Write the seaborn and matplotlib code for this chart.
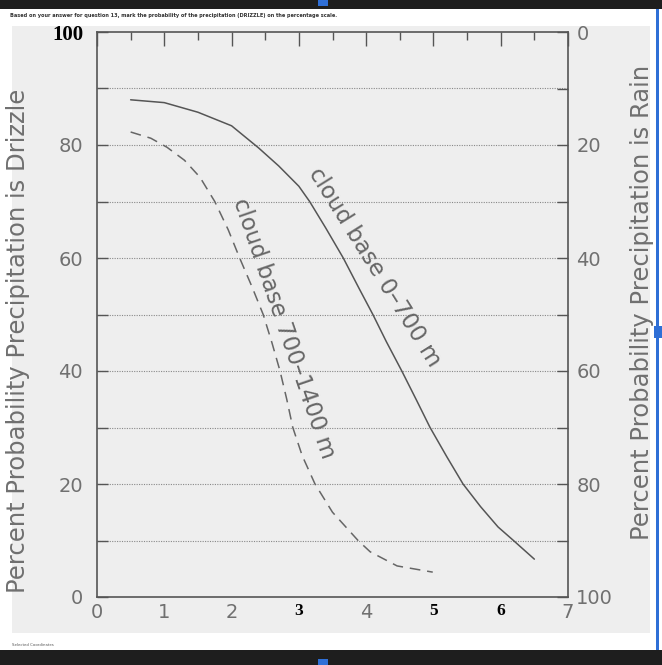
import matplotlib
matplotlib.use("Agg")
import matplotlib.pyplot as plt
from matplotlib.patches import Rectangle
import numpy as np
import pandas as pd
import seaborn as sns

# ---- data ----
solid_x = [0.5, 1.0, 1.5, 2.0, 2.4, 2.7, 3.0, 3.16, 3.4, 3.66, 3.9, 4.10, 4.3, 4.53, 4.75, 4.95, 5.2, 5.44, 5.7, 5.96, 6.18, 6.5]
solid_y = [88, 87.5, 85.8, 83.4, 79.5, 76.3, 72.7, 70, 65.3, 60, 54.5, 50, 45.2, 40, 34.8, 30, 24.8, 20, 16, 12.4, 10.1, 6.7]
dashed_x = [0.5, 0.8, 1.04, 1.3, 1.53, 1.75, 1.95, 2.12, 2.3, 2.47, 2.6, 2.72, 2.82, 2.91, 3.05, 3.24, 3.5, 3.88, 4.06, 4.46, 4.99]
dashed_y = [82.3, 81.2, 79.6, 77.3, 74.3, 70, 65, 60, 55, 50, 45, 40, 35, 30, 25, 20, 15, 10, 8, 5.5, 4.4]
series_labels = ["cloud base 0\u2013700 m", "cloud base 700\u20131400 m"]
x_ticks = [0, 1, 2, 3, 4, 5, 6, 7]
left_ticklabels = ["0", "", "20", "", "40", "", "60", "", "80", "", "100"]
right_ticklabels = ["0", "", "20", "", "40", "", "60", "", "80", "", "100"]
left_label = "Percent Probability Precipitation is Drizzle"
right_label = "Percent Probability Precipitation is Rain"
header = ("Based on your answer for question 13, mark the probability of the "
          "precipitation (DRIZZLE) on the percentage scale.")

df = pd.concat([
    pd.DataFrame({"x": solid_x, "y": solid_y, "s": series_labels[0]}),
    pd.DataFrame({"x": dashed_x, "y": dashed_y, "s": series_labels[1]}),
])

sns.set_style("white")
plt.rcParams["font.family"] = ["DejaVu Sans"]

W, H = 662, 665
fig = plt.figure(figsize=(W / 100, H / 100), dpi=100)
fig.patch.set_facecolor("white")

# background axes for the screenshot framing
bg = fig.add_axes([0, 0, 1, 1], zorder=-10)
bg.set_xlim(0, W)
bg.set_ylim(H, 0)
bg.axis("off")

def frect(x0, y0, x1, y1, color, z=0):
    bg.add_patch(Rectangle((x0, y0), x1 - x0, y1 - y0, facecolor=color,
                           edgecolor="none", zorder=z))

frect(0, 0, W, 9, "#1e1e1e")
frect(12, 26, 650, 633, "#eeeeee")
frect(0, 650, W, H, "#1e1e1e")
frect(656, 9, 659, 650, "#2f6fd6")
frect(318, 0, 328, 6, "#2f6fd6", 2)
frect(318, 659, 328, H, "#2f6fd6", 2)
frect(654, 326, 662, 338, "#2f6fd6", 2)
bg.text(10, 16, header, fontsize=3.6, fontweight="bold", color="#333333", va="center")
bg.text(12, 645, "Selected Coordinates", fontsize=2.8, color="#555555", va="center")
bg.text(18, 341, left_label, rotation=90, ha="center", va="center",
        fontsize=17.5, color="#707070")
bg.text(642, 302, right_label, rotation=90, ha="center", va="center",
        fontsize=17.5, color="#707070")

ax = fig.add_axes([97 / W, 1 - 597 / H, (568 - 97) / W, (597 - 32) / H], zorder=1)
ax.set_facecolor("none")

sns.lineplot(data=df, x="x", y="y", hue="s", style="s",
             palette=["#555555", "#666666"],
             dashes={series_labels[0]: "", series_labels[1]: (7, 4.5)},
             linewidth=1.1, legend=False, sort=False, ax=ax)

ax.set_xlim(0, 7)
ax.set_ylim(0, 100)
for y in range(10, 100, 10):
    ax.axhline(y, color="#888888", linestyle=(0, (1, 1.2)), linewidth=0.8, zorder=0)

ax.set_xticks(x_ticks)
ax.set_xticklabels([str(v) for v in x_ticks])
ax.set_xticks(np.arange(0.5, 7, 1.0), minor=True)
ax.set_yticks(range(0, 101, 10))
ax.set_yticklabels(left_ticklabels)
ax.tick_params(axis="x", which="major", direction="in", length=10, width=1, color="#555555",
               top=True, labelsize=14, labelcolor="#707070", pad=4)
ax.tick_params(axis="x", which="minor", direction="in", length=6, width=1, color="#555555",
               top=True)
ax.tick_params(axis="y", direction="in", length=8, width=1, color="#555555",
               labelsize=14, labelcolor="#707070", pad=10)
for sp in ax.spines.values():
    sp.set_color("#555555")
    sp.set_linewidth(1.2)
    sp.set_visible(True)

for lab in ax.get_xticklabels():
    if lab.get_text() in ("3", "5", "6"):
        lab.set_fontfamily("Liberation Serif")
        lab.set_fontweight("bold")
        lab.set_color("black")
        lab.set_fontsize(12.5)
ylabs = ax.get_yticklabels()
ylabs[-1].set_fontfamily("Liberation Serif")
ylabs[-1].set_fontweight("bold")
ylabs[-1].set_color("black")
ylabs[-1].set_fontsize(15)

ax2 = ax.twinx()
ax2.set_ylim(100, 0)
ax2.set_yticks(range(0, 101, 10))
ax2.set_yticklabels(right_ticklabels)
ax2.tick_params(axis="y", direction="in", length=8, width=1, color="#555555",
                labelsize=14, labelcolor="#707070", pad=6)
for sp in ax2.spines.values():
    sp.set_visible(False)

ax.set_xlabel("")
ax.set_ylabel("")

ax.text(4.13, 58.4, series_labels[0], rotation=-58, rotation_mode="anchor",
        ha="center", va="center", fontsize=16.5, color="#666666")
ax.text(2.77, 47.6, series_labels[1], rotation=-71, rotation_mode="anchor",
        ha="center", va="center", fontsize=16.5, color="#666666")

fig.savefig("out.png", dpi=100, facecolor=fig.get_facecolor())
